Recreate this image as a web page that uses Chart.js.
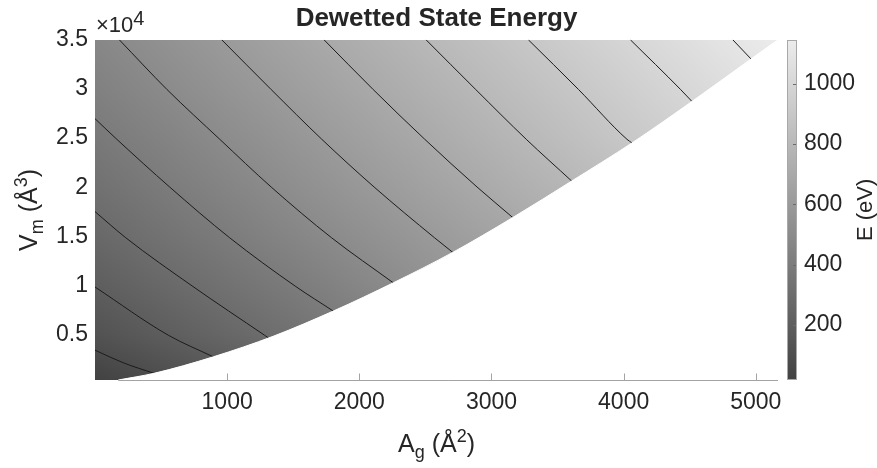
<!DOCTYPE html>
<html>
<head>
<meta charset="utf-8">
<script src="https://cdn.jsdelivr.net/npm/chart.js@4.4.1/dist/chart.umd.min.js"></script>
<style>
  html, body { margin: 0; padding: 0; background: #fff; }
  #wrap { width: 877px; height: 468px; }
</style>
</head>
<body>
<div id="wrap"><canvas id="energyChart" width="877" height="468"></canvas></div>
<script>
'use strict';

// axis limits (A_g in A^2, V_m in A^3) and colour limits (eV)
const aMin = 0, aMax = 5168;
const vMin = 400, vMax = 35000;
const eMin = 18, eMax = 1145;

const xTicks = [1000, 2000, 3000, 4000, 5000];
const yTicks = [5000, 10000, 15000, 20000, 25000, 30000, 35000];
const cbTicks = [200, 400, 600, 800, 1000];

// energy sampled on a coarse A/V grid, rows follow gridV
const gridA = [0, 500, 1000, 1500, 2000, 2500, 3000, 3500, 4000, 4500, 5000, 5500];
const gridV = [0, 5000, 10000, 15000, 20000, 25000, 30000, 35000];
const energy = [
  [5, 75, 142, 210, 277, 344, 411, 478, 545, 612, 679, 746],
  [124, 193, 261, 329, 396, 463, 530, 597, 664, 731, 798, 865],
  [202, 269, 334, 398, 468, 538, 605, 672, 738, 805, 872, 938],
  [270, 335, 399, 464, 528, 593, 657, 721, 785, 849, 913, 977],
  [327, 392, 457, 522, 586, 650, 714, 778, 842, 906, 970, 1034],
  [380, 444, 509, 573, 638, 702, 767, 832, 898, 963, 1028, 1093],
  [431, 495, 560, 624, 688, 752, 816, 880, 945, 1010, 1074, 1138],
  [476, 541, 606, 670, 735, 800, 864, 929, 993, 1058, 1122, 1187]
];

// contour levels and their traced paths [A, V]
const levels = [100, 200, 300, 400, 500, 600, 700, 800, 900, 1000, 1100];
const contourPaths = [
  [[0, 3435], [214, 2150], [446, 1078]],
  [[0, 9859], [555, 4953], [895, 2757]],
  [[0, 17528], [233, 14867], [741, 9910], [1283, 4953], [1313, 4679]],
  [[0, 26977], [165, 24883], [565, 20027], [1019, 14867], [1519, 9910], [1803, 7411]],
  [[184, 35000], [545, 29942], [944, 24883], [1333, 20027], [1790, 14867], [2257, 10284]],
  [[959, 35000], [1333, 29942], [1716, 24883], [2112, 20027], [2569, 14867], [2707, 13380]],
  [[1733, 35000], [2105, 29942], [2495, 24883], [2891, 20027], [3161, 16921]],
  [[2505, 35000], [2881, 29942], [3263, 24883], [3607, 20634]],
  [[3279, 35000], [3659, 29942], [4025, 24883], [4063, 24509]],
  [[4051, 35000], [4431, 29942], [4517, 28728]],
  [[4826, 35000], [4964, 33048]]
];

// edge of the dewetted region: nothing is defined below it
const edgeA = [176, 446, 895, 1349, 1803, 2257, 2707, 3161, 3607, 4063, 4517, 4964, 5168];
const edgeV = [400, 1078, 2757, 4851, 7411, 10284, 13380, 16921, 20634, 24509, 28728, 33048, 35000];

const FONT = 'Liberation Sans';
const TEXT = '#262626';

function indexIn(arr, val) {
  let i = 0;
  while (i < arr.length - 2 && val > arr[i + 1]) i++;
  return i;
}

function energyAt(a, v) {
  const i = indexIn(gridA, a), j = indexIn(gridV, v);
  let ta = (a - gridA[i]) / (gridA[i + 1] - gridA[i]);
  let tv = (v - gridV[j]) / (gridV[j + 1] - gridV[j]);
  ta = Math.max(0, Math.min(1, ta));
  tv = Math.max(0, Math.min(1, tv));
  const e0 = energy[j][i] * (1 - ta) + energy[j][i + 1] * ta;
  const e1 = energy[j + 1][i] * (1 - ta) + energy[j + 1][i + 1] * ta;
  return e0 * (1 - tv) + e1 * tv;
}

// gray colormap, dark at eMin and light at eMax
const grayLo = 66, grayHi = 236;
function grayFor(e) {
  let t = (e - eMin) / (eMax - eMin);
  t = Math.max(0, Math.min(1, t));
  return Math.round(grayLo + t * (grayHi - grayLo));
}

// text with sub/superscripts, parts = [text, size, dy]
function drawParts(ctx, parts, cx, baseY) {
  let total = 0;
  parts.forEach(p => { ctx.font = p[1] + 'px "' + FONT + '"'; total += ctx.measureText(p[0]).width; });
  let x = cx - total / 2;
  ctx.textAlign = 'left';
  ctx.textBaseline = 'alphabetic';
  parts.forEach(p => {
    ctx.font = p[1] + 'px "' + FONT + '"';
    ctx.fillText(p[0], x, baseY + p[2]);
    x += ctx.measureText(p[0]).width;
  });
}

const fieldPlugin = {
  id: 'field',
  beforeDatasetsDraw(chart) {
    const {ctx, chartArea: area, scales: {x, y}} = chart;
    const l = Math.round(area.left), t = Math.round(area.top);
    const w = Math.round(area.right) - l, h = Math.round(area.bottom) - t;
    const img = ctx.createImageData(w, h);
    for (let j = 0; j < h; j++) {
      const v = y.getValueForPixel(t + j + 0.5);
      for (let i = 0; i < w; i++) {
        const a = x.getValueForPixel(l + i + 0.5);
        const g = grayFor(energyAt(a, v));
        const k = (j * w + i) * 4;
        img.data[k] = g; img.data[k + 1] = g; img.data[k + 2] = g; img.data[k + 3] = 255;
      }
    }
    ctx.putImageData(img, l, t);
  },
  afterDatasetsDraw(chart) {
    const {ctx, chartArea: area, scales: {x}} = chart;
    // x axis line and inward ticks, only visible outside the filled region
    ctx.save();
    ctx.strokeStyle = '#a3a3a3';
    ctx.lineWidth = 1;
    ctx.beginPath();
    const by = Math.round(area.bottom) + 0.5;
    ctx.moveTo(x.getPixelForValue(edgeA[0]), by);
    ctx.lineTo(area.right, by);
    xTicks.forEach(v => {
      const px = Math.round(x.getPixelForValue(v)) + 0.5;
      ctx.moveTo(px, by);
      ctx.lineTo(px, by - 7);
    });
    ctx.stroke();
    ctx.restore();
  },
  afterDraw(chart) {
    const {ctx, chartArea: area, scales: {cb}} = chart;
    ctx.save();
    // colour bar
    const bx = Math.round(cb.left) + 9, bw = 10;
    for (let py = Math.round(cb.top); py < Math.round(cb.bottom); py++) {
      const g = grayFor(cb.getValueForPixel(py + 0.5));
      ctx.fillStyle = 'rgb(' + g + ',' + g + ',' + g + ')';
      ctx.fillRect(bx, py, bw, 1);
    }
    ctx.strokeStyle = '#a8a8a8';
    ctx.lineWidth = 1;
    ctx.strokeRect(bx + 0.5, Math.round(cb.top) + 0.5, bw - 1, Math.round(cb.bottom) - Math.round(cb.top) - 1);
    ctx.strokeStyle = '#6a6a6a';
    ctx.beginPath();
    cbTicks.forEach(v => {
      const py = Math.round(cb.getPixelForValue(v)) + 0.5;
      ctx.moveTo(bx + bw - 1, py);
      ctx.lineTo(bx + bw - 4, py);
    });
    ctx.stroke();

    ctx.fillStyle = TEXT;
    const midX = (area.left + area.right) / 2;
    const midY = (area.top + area.bottom) / 2;

    // title
    ctx.font = 'bold 26px "' + FONT + '"';
    ctx.textAlign = 'center';
    ctx.textBaseline = 'alphabetic';
    ctx.fillText('Dewetted State Energy', midX, 26);

    // exponent of the V axis
    ctx.textAlign = 'left';
    ctx.font = '22px "' + FONT + '"';
    ctx.fillText('\u00d710', 96, 32);
    const ew = ctx.measureText('\u00d710').width;
    ctx.font = '20px "' + FONT + '"';
    ctx.fillText('4', 96 + ew, 25);

    // x axis title
    drawParts(ctx, [['A', 25, 0], ['g', 18, 6], [' (\u00c5', 25, 0], ['2', 18, -10], [')', 25, 0]], midX, 452);

    // y axis title
    ctx.save();
    ctx.translate(37, midY);
    ctx.rotate(-Math.PI / 2);
    drawParts(ctx, [['V', 25, 0], ['m', 18, 6], [' (\u00c5', 25, 0], ['3', 18, -10], [')', 25, 0]], 0, 0);
    ctx.restore();

    // colour bar title
    ctx.save();
    ctx.translate(872, midY);
    ctx.rotate(-Math.PI / 2);
    drawParts(ctx, [['E (eV)', 22, 0]], 0, 0);
    ctx.restore();

    ctx.restore();
  }
};

const datasets = levels.map((lev, k) => ({
  label: String(lev),
  data: contourPaths[k].map(p => ({x: p[0], y: p[1]})),
  borderColor: '#1c1c1c',
  borderWidth: 1,
  pointRadius: 0,
  cubicInterpolationMode: 'monotone',
  fill: false,
  order: 1
}));

// white mask under the edge, drawn last
datasets.push({
  label: 'edge',
  data: edgeA.map((a, i) => ({x: a, y: edgeV[i]})),
  borderColor: '#ffffff',
  borderWidth: 1,
  backgroundColor: '#ffffff',
  pointRadius: 0,
  cubicInterpolationMode: 'monotone',
  fill: 'start',
  order: 0
});

const tickFont = {family: FONT, size: 23};
const plain = v => String(v);

new Chart(document.getElementById('energyChart'), {
  type: 'line',
  data: {datasets: datasets},
  plugins: [fieldPlugin],
  options: {
    responsive: false,
    animation: false,
    devicePixelRatio: 1,
    layout: {padding: {top: 38, left: 0, right: 0, bottom: 0}},
    plugins: {legend: {display: false}, tooltip: {enabled: false}, title: {display: false}},
    scales: {
      x: {
        type: 'linear',
        min: aMin,
        max: aMax,
        grid: {display: false, drawTicks: false},
        border: {display: false},
        ticks: {font: tickFont, color: TEXT, padding: 9, maxRotation: 0, callback: plain},
        afterBuildTicks: s => { s.ticks = xTicks.map(v => ({value: v})); },
        afterFit: s => { s.height = 88; }
      },
      y: {
        type: 'linear',
        min: vMin,
        max: vMax,
        grid: {display: false, drawTicks: false},
        border: {display: false},
        ticks: {font: tickFont, color: TEXT, padding: 7, callback: v => String(v / 10000)},
        afterBuildTicks: s => { s.ticks = yTicks.map(v => ({value: v})); },
        afterFit: s => { s.width = 95; }
      },
      cb: {
        type: 'linear',
        position: 'right',
        min: eMin,
        max: eMax,
        grid: {display: false, drawTicks: false},
        border: {display: false},
        ticks: {font: tickFont, color: TEXT, padding: 26, callback: plain},
        afterBuildTicks: s => { s.ticks = cbTicks.map(v => ({value: v})); },
        afterFit: s => { s.width = 99; }
      }
    }
  }
});
</script>
</body>
</html>
